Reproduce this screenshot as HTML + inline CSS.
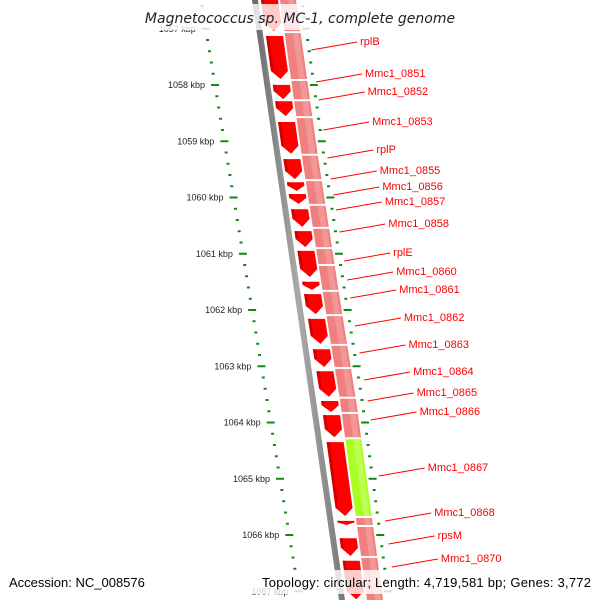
<!DOCTYPE html>
<html><head><meta charset="utf-8"><style>
html,body{margin:0;padding:0;background:#fff}
svg{display:block}
text{font-family:"Liberation Sans","DejaVu Sans",sans-serif}
</style></head><body>
<svg id="chart" width="600" height="600" viewBox="0 0 600 600" xmlns="http://www.w3.org/2000/svg">
<defs>
<linearGradient id="gray" x1="0" x2="1" y1="0" y2="0"><stop offset="0" stop-color="#666"/><stop offset="0.5" stop-color="#aaa"/><stop offset="1" stop-color="#777"/></linearGradient>
</defs>
<g id="layer"></g>
<rect x="0" y="4" width="600" height="26" fill="#fff" opacity="0.8"/>
<text x="300" y="23" text-anchor="middle" font-size="14" font-style="italic" fill="#222" style="font-family:'DejaVu Sans',sans-serif">Magnetococcus sp. MC-1, complete genome</text>
<rect x="0" y="570" width="600" height="24" fill="#fff" opacity="0.8"/>
<text x="9" y="587" font-size="13" fill="#000">Accession: NC_008576</text>
<text x="591" y="587" text-anchor="end" font-size="13" fill="#000" textLength="329" lengthAdjust="spacing">Topology: circular; Length: 4,719,581 bp; Genes: 3,772</text>
</svg>
<script>
const geneStarts=[1056.31,1057.11,1057.98,1058.27,1058.64,1059.30,1059.71,1059.92,1060.19,1060.58,1060.93,1061.48,1061.70,1062.14,1062.68,1063.07,1063.60,1063.85,1064.33,1065.73,1066.04,1066.44];
const geneEnds=[1057.06,1057.91,1058.27,1058.57,1059.24,1059.69,1059.90,1060.13,1060.54,1060.90,1061.43,1061.66,1062.09,1062.62,1063.03,1063.56,1063.83,1064.28,1065.68,1065.84,1066.39,1067.16];
const pinkBreaks=[1056.3,1057.06,1057.91,1058.27,1058.57,1059.24,1059.69,1060.13,1060.54,1060.90,1061.20,1061.66,1062.09,1062.62,1063.03,1063.56,1063.83,1064.28,1065.68,1065.84,1066.39,1067.2];
const pinkColors=['p','p','p','p','p','p','p','p','p','p','p','p','p','p','p','p','p','g','p','p','p'];
const labelNames=['rplB','Mmc1_0851','Mmc1_0852','Mmc1_0853','rplP','Mmc1_0855','Mmc1_0856','Mmc1_0857','Mmc1_0858','rplE','Mmc1_0860','Mmc1_0861','Mmc1_0862','Mmc1_0863','Mmc1_0864','Mmc1_0865','Mmc1_0866','Mmc1_0867','Mmc1_0868','rpsM','Mmc1_0870'];
const labelY=[41,73,91,121,149,170,186,201,223,252,271,289,317,344,371,392,411,467,512,535,558];
const tickLabels=[1057,1058,1059,1060,1061,1062,1063,1064,1065,1066,1067];

const NS='http://www.w3.org/2000/svg';
const layer=document.getElementById('layer');
function yOf(k){return 85+(k-1058)*56.25;}
const gp=[[0,252],[150,273],[300,296],[400,312],[600,339]];
function g(y){for(let i=1;i<gp.length;i++){if(y<=gp[i][0]||i==gp.length-1){const a=gp[i-1],b=gp[i];return a[1]+(b[1]-a[1])*(y-a[0])/(b[0]-a[0]);}}}
function lt(y){return 201+0.165*y;}
function mk(tag,attrs){const e=document.createElementNS(NS,tag);for(const k in attrs)e.setAttribute(k,attrs[k]);layer.appendChild(e);return e;}
function band(y1,y2,o1,o2){return `${g(y1)+o1},${y1} ${g(y1)+o2},${y1} ${g(y2)+o2},${y2} ${g(y2)+o1},${y2}`;}

let bb=mk('polygon',{points:band(-5,605,0,6),fill:'url(#gray)'});



for(let i=0;i<pinkBreaks.length-1;i++){
  const y1=yOf(pinkBreaks[i])+1,y2=yOf(pinkBreaks[i+1])-1;
  const col=pinkColors[i]=='g'?'#aaff22':'#f08080';
  const hi=pinkColors[i]=='g'?'#c4ff66':'#f4a0a0';
  let p=mk('polygon',{points:band(y1,y2,28,44),fill:col});
  
  
  mk('polygon',{points:band(y1,y2,36,42),fill:hi,opacity:0.7});
}

for(let i=0;i<geneStarts.length;i++){
  const y1=yOf(geneStarts[i])+1,y2=yOf(geneEnds[i])-1;
  const tip=Math.min(8,(y2-y1)*0.6);
  const yb=y2-tip;
  const pts=[[g(y1)+9,y1],[g(y1)+26,y1],[g(yb)+26,yb],[g(y2)+17.5,y2],[g(yb)+9,yb]];
  let a=mk('polygon',{points:pts.map(p=>p.join(',')).join(' '),fill:'#ff0000'});
  
  
  mk('polygon',{points:`${g(y1)+9},${y1} ${g(y1)+12},${y1} ${g(yb)+12},${yb} ${g(yb)+9},${yb}`,fill:'#d40000'});
}

for(let k=1056.4;k<=1067.3;k+=0.2){
  const kk=Math.round(k*10)/10; const y=yOf(kk);
  const major=Math.abs(kk-Math.round(kk))<0.01;
  const w=major?8:3;
  let t=mk('line',{x1:g(y)+50-w/2,y1:y,x2:g(y)+50+w/2,y2:y,stroke:'#118811','stroke-width':2});
  
  
  let t2=mk('line',{x1:lt(y)-w/2,y1:y,x2:lt(y)+w/2,y2:y,stroke:'#118811','stroke-width':2});
  
  
}
for(const k of tickLabels){
  const y=yOf(k);
  let t=mk('text',{x:lt(y)-10,y:y+3,'text-anchor':'end','font-size':9,fill:'#222'});
  t.textContent=k+' kbp';
  
  
}

for(let i=0;i<labelNames.length;i++){
  const y=labelY[i]; const lx=g(y)+102+0.01*y;
  let l=mk('line',{x1:lx-49,y1:y+9,x2:lx-3,y2:y+1,stroke:'#ff0000','stroke-width':1});
  
  
  let t=mk('text',{x:lx,y:y+4,'font-size':11,fill:'#ff0000'});
  t.textContent=labelNames[i];
  
  
}
</script>
</body></html>
